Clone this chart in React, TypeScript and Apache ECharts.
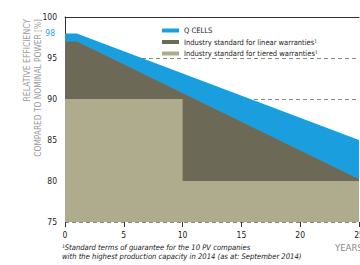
import React, { useEffect, useRef } from "react";
import * as echarts from "echarts";

const qcells: [number, number][] = [[0, 98], [1, 98], [25, 85]];
const linear: [number, number][] = [[0, 97], [1, 97], [25, 80.2]];
const tiered: [number, number][] = [[0, 90], [10, 90], [10, 80], [25, 80]];
const seriesNames = [
  "Q CELLS",
  "Industry standard for linear warranties¹",
  "Industry standard for tiered warranties¹",
];
const yTitle1 = "RELATIVE EFFICIENCY";
const yTitle2 = "COMPARED TO NOMINAL POWER [%]";
const footnote1 = "¹Standard terms of guarantee for the 10 PV companies";
const footnote2 = "with the highest production capacity in 2014 (as at: September 2014)";
const xName = "YEARS";

const NARROW = "'Liberation Sans Narrow', 'DejaVu Sans Condensed', sans-serif";
const BLUE = "#1a9ede";
const DARK = "#6c6a56";
const BEIGE = "#afac8d";

export default function App() {
  const ref = useRef<HTMLDivElement>(null);
  useEffect(() => {
    const chart = echarts.init(ref.current!, null, { renderer: "svg" });
    const area = (name: string, data: [number, number][], color: string, z: number) => ({
      name,
      type: "line",
      data,
      symbol: "none",
      lineStyle: { width: 0 },
      itemStyle: { color },
      areaStyle: { color, opacity: 1, origin: "start" },
      z,
    });
    chart.setOption({
      animation: false,
      textStyle: { fontFamily: NARROW },
      grid: { left: 65, right: 1, top: 17, bottom: 43, outerBoundsMode: "none", containLabel: false },
      legend: {
        orient: "vertical",
        left: 157,
        top: 21,
        icon: "rect",
        itemWidth: 17,
        itemHeight: 4,
        itemGap: 2.5,
        textStyle: { fontSize: 7.5, lineHeight: 9, color: "#222", fontFamily: NARROW },
        data: seriesNames,
      },
      xAxis: [
        {
          type: "value",
          min: 0,
          max: 25,
          interval: 5,
          axisLine: { show: false },
          axisTick: { show: true, length: 5, lineStyle: { color: "#333" } },
          axisLabel: { fontSize: 8.5, color: "#222", margin: 8 },
          splitLine: { show: false },
        },
        {
          type: "value",
          position: "top",
          min: 0,
          max: 25,
          axisLine: { show: true, lineStyle: { color: "#333", width: 1 } },
          axisTick: { show: false },
          axisLabel: { show: false },
          splitLine: { show: false },
        },
      ],
      yAxis: [
        {
          type: "value",
          min: 75,
          max: 100,
          interval: 5,
          axisLine: { show: true, lineStyle: { color: "#333", width: 1 } },
          axisTick: { show: false },
          axisLabel: { fontSize: 8.5, color: "#222", margin: 8 },
          splitLine: { show: true, lineStyle: { color: "#888", type: [4, 3], width: 1 } },
        },
        {
          type: "value",
          min: 75,
          max: 100,
          position: "left",
          axisLine: { show: false },
          axisTick: { show: false },
          splitLine: { show: false },
          axisLabel: { customValues: [98], fontSize: 8.5, color: BLUE, margin: 10, padding: [6, 0, 0, 0] },
        },
      ],
      series: [
        area(seriesNames[0], qcells, BLUE, 2),
        area(seriesNames[1], linear, DARK, 3),
        area(seriesNames[2], tiered, BEIGE, 4),
      ],
      graphic: [
        {
          type: "text",
          x: 27,
          y: 19,
          rotation: Math.PI / 2,
          style: {
            text: yTitle1,
            fill: "#999",
            font: `8.5px ${NARROW}`,
            align: "right",
            verticalAlign: "middle",
          },
        },
        {
          type: "text",
          x: 38,
          y: 19,
          rotation: Math.PI / 2,
          style: {
            text: yTitle2,
            fill: "#999",
            font: `8.3px ${NARROW}`,
            align: "right",
            verticalAlign: "middle",
          },
        },
        {
          type: "text",
          x: 62,
          y: 247.5,
          style: {
            text: footnote1,
            fill: "#222",
            font: `italic 7.6px ${NARROW}`,
            verticalAlign: "middle",
          },
        },
        {
          type: "text",
          x: 62,
          y: 256.5,
          style: {
            text: footnote2,
            fill: "#222",
            font: `italic 7.6px ${NARROW}`,
            verticalAlign: "middle",
          },
        },
        {
          type: "text",
          x: 335,
          y: 247,
          style: {
            text: xName,
            fill: "#888",
            font: `9.5px ${NARROW}`,
            verticalAlign: "middle",
          },
        },
      ],
    });
    return () => chart.dispose();
  }, []);
  return (
    <div
      ref={ref}
      style={{ position: "fixed", left: 0, top: 0, width: 360, height: 265, background: "#fff" }}
    />
  );
}
